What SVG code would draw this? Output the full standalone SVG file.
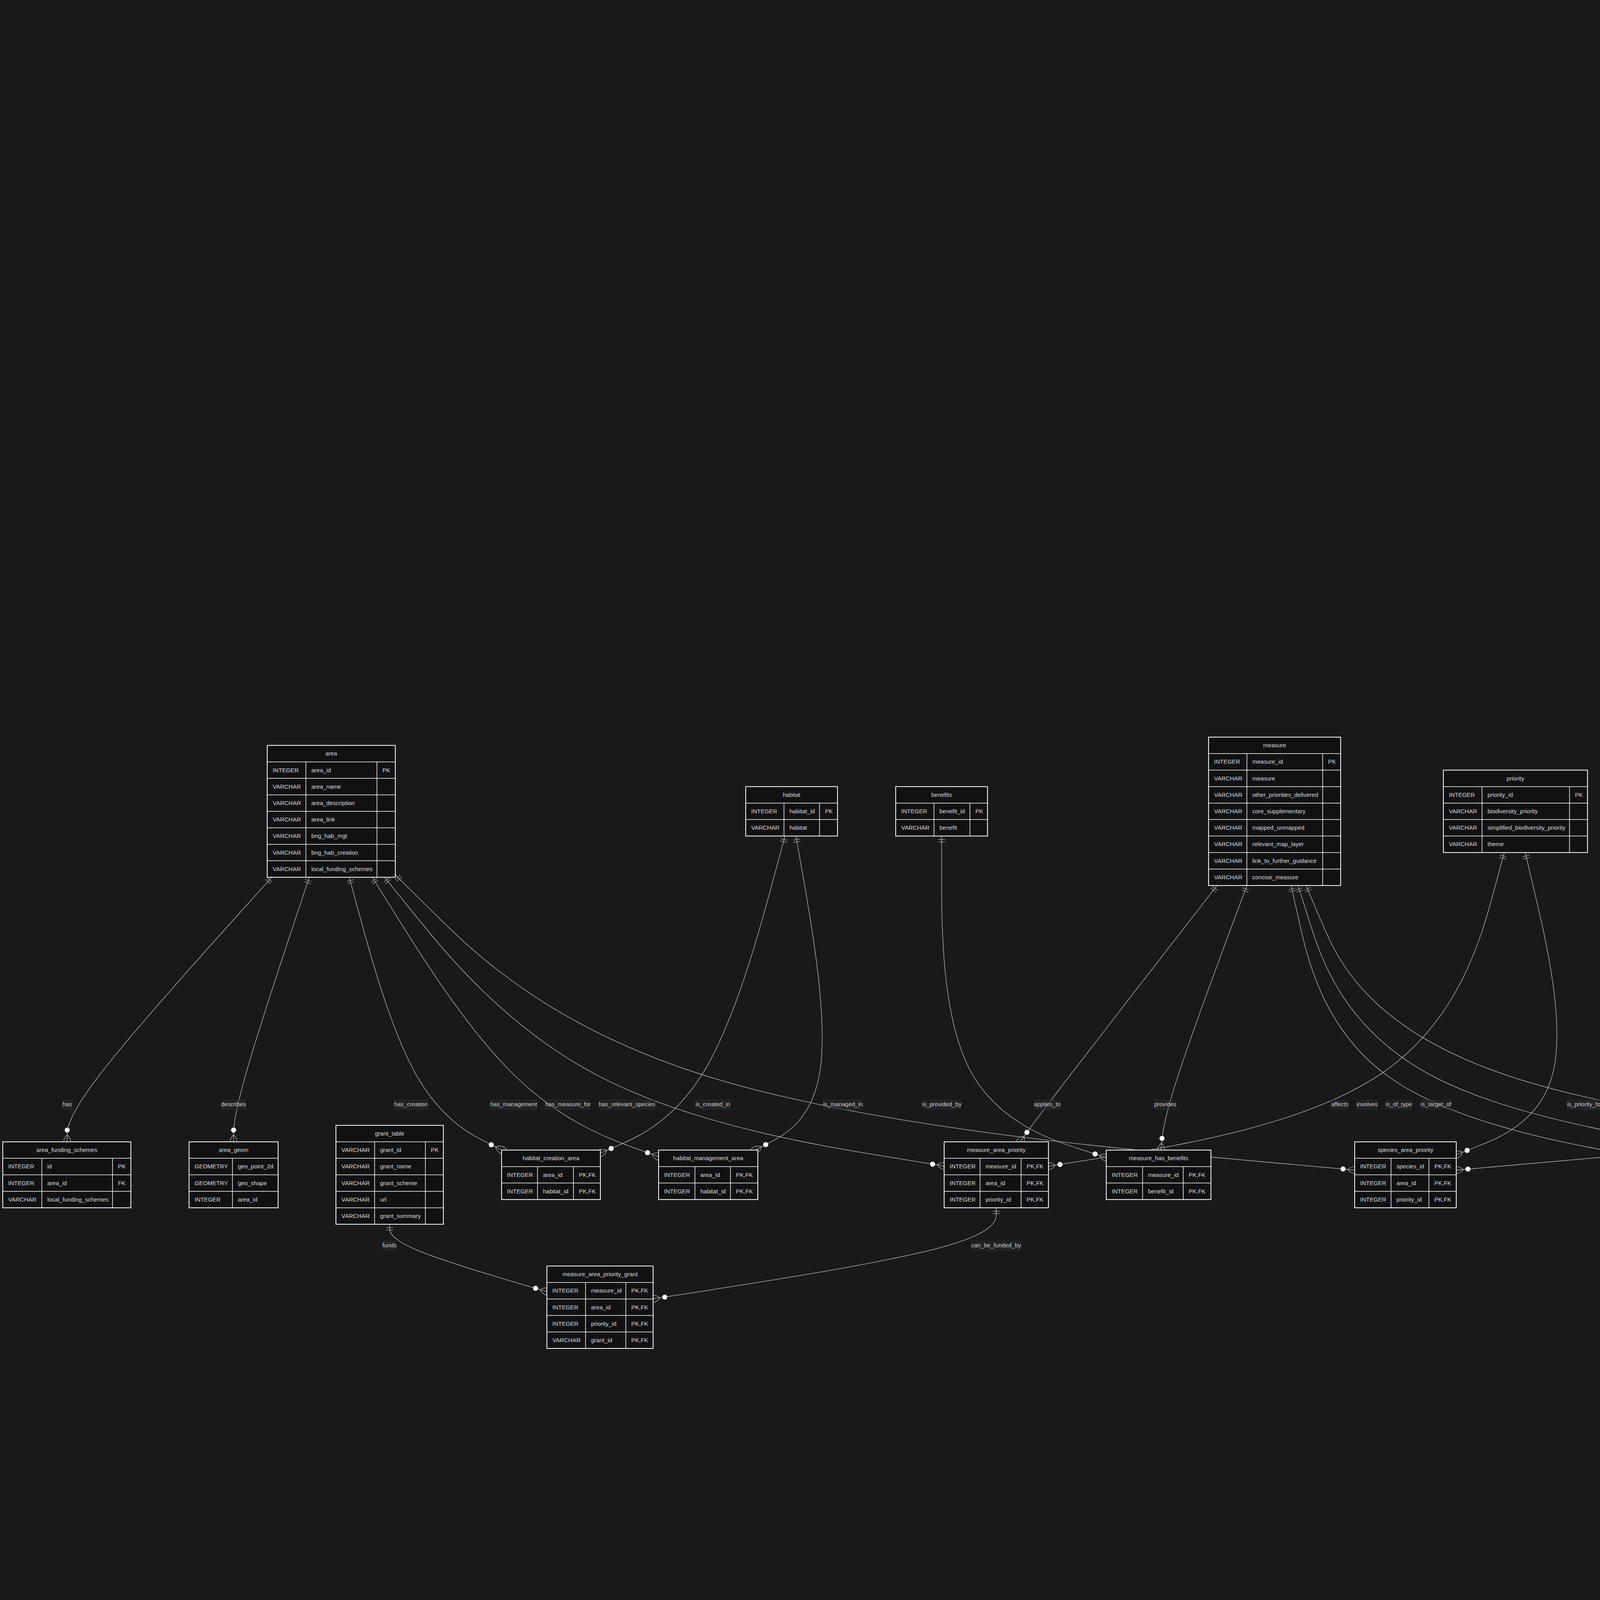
<svg xmlns="http://www.w3.org/2000/svg" width="6066" height="4833" viewBox="0 0 6066 4833">
<style>
.tb{fill:#111114;stroke:#ffffff;stroke-width:2}
.gr{fill:none;stroke:#ffffff;stroke-width:1.5}
.t{font-family:"Liberation Sans",Arial,sans-serif;font-size:15px;fill:#dddddd}
.h{font-family:"Liberation Sans",Arial,sans-serif;font-size:15px;fill:#dddddd;text-anchor:middle}
.e{fill:none;stroke:#c4c4c4;stroke-width:1.3}
.lb{fill:#2a2a2e;fill-opacity:0.55}
.lt{font-family:"Liberation Sans",Arial,sans-serif;font-size:15px;fill:#cccccc;text-anchor:middle}
</style>
<defs>
<marker id="oneStart" refX="0" refY="9" markerWidth="18" markerHeight="18" orient="auto" markerUnits="userSpaceOnUse"><path d="M9,0 L9,18 M15,0 L15,18" fill="none" stroke="#bbbbbb" stroke-width="1.2"/></marker>
<marker id="zmEnd" refX="39" refY="18" markerWidth="57" markerHeight="36" orient="auto" markerUnits="userSpaceOnUse"><circle cx="9" cy="18" r="6.5" fill="#ffffff"/><path d="M21,18 Q39,0 57,18 Q39,36 21,18" fill="none" stroke="#bbbbbb" stroke-width="1.2"/></marker>
</defs>
<rect x="0" y="0" width="6066" height="4833" fill="#19191c"/>
<g id="connectors" class="e" marker-start="url(#oneStart)" marker-end="url(#zmEnd)">
<path d="M696,2245.6 L608.7,2342.5 C521.3,2439.4 346.7,2633.2 259.3,2746.1 C172,2859 172,2891 172,2907 L172,2923"/>
<path d="M791.8,2245.6 L759.5,2342.5 C727.2,2439.4 662.6,2633.2 630.3,2746.1 C598,2859 598,2891 598,2907 L598,2923"/>
<path d="M893.9,2245.6 L920.3,2342.5 C946.6,2439.4 999.3,2633.2 1064.4,2749.6 C1129.5,2866 1207,2905 1245.8,2924.5 L1284.5,2944"/>
<path d="M953,2245.6 L1013.3,2342.5 C1073.7,2439.4 1194.3,2633.2 1316.5,2752.4 C1438.7,2871.7 1562.3,2916.3 1624.2,2938.7 L1686,2961"/>
<path d="M984.2,2245.6 L1062.5,2342.5 C1140.8,2439.4 1297.4,2633.2 1536.2,2756.5 C1775,2879.7 2096,2932.4 2256.5,2958.8 L2417,2985.1"/>
<path d="M1012,2239.5 L1110.8,2337.4 C1209.7,2435.3 1407.3,2631.2 1816.7,2757.1 C2226,2883.1 2847,2939.2 3157.5,2967.3 L3468,2995.3"/>
<path d="M2009.5,2140.3 L1978.8,2254.2 C1948,2368.7 1886.5,2597.9 1807.8,2733.3 C1729,2868.7 1633,2910.3 1585,2931.2 L1537,2952"/>
<path d="M2037.6,2140.3 L2057.7,2254.2 C2077.7,2368.7 2117.9,2597.9 2100.6,2731.9 C2083.3,2866 2008.5,2905 1971.2,2924.5 L1933.8,2944.2"/>
<path d="M2410.5,2140.3 L2410.6,2254.2 C2410.7,2368.7 2410.8,2597.9 2481.1,2735.2 C2551.3,2872.5 2691.7,2918 2761.8,2940.8 L2832,2963.5"/>
<path d="M3115.6,2266.9 L3043.2,2360.2 C2970.7,2453.5 2825.9,2640.3 2741.8,2749.6 C2657.8,2859 2634.6,2891 2623,2907 L2611.4,2923.1"/>
<path d="M3192.1,2266.9 L3157.2,2360.2 C3122.4,2453.5 3052.7,2640.3 3016,2753.1 C2979.3,2866 2975.7,2905 2973.8,2924.5 L2972,2944.2"/>
<path d="M3305.3,2266.9 L3326.1,2360.2 C3346.9,2453.5 3388.4,2640.3 3559.6,2759.8 C3730.7,2879.3 4031.3,2931.5 4181.7,2957.7 L4332,2983.8"/>
<path d="M3323,2266.9 L3352.5,2360.2 C3382,2453.5 3441,2640.3 3678.8,2760.6 C3916.7,2880.9 4333.3,2934.7 4541.7,2961.7 L4750,2988.6"/>
<path d="M3343.5,2266.9 L3383.1,2360.2 C3422.7,2453.5 3501.8,2640.3 3884.6,2761.6 C4267.3,2882.9 4953.7,2938.7 5296.8,2966.7 L5640,2994.6"/>
<path d="M3850.9,2182.5 L3821.8,2290.3 C3792.6,2397.7 3734.3,2612.3 3539.8,2746.1 C3345.3,2879.9 3014.7,2932.8 2849.3,2959.3 L2684,2985.7"/>
<path d="M3904.5,2182.5 L3929.9,2290.3 C3955.3,2397.7 4006.2,2612.3 3976.8,2741.2 C3947.3,2870 3837.7,2913 3782.8,2934.5 L3728,2956"/>
<path d="M4346,2140.3 L4346,2254.2 C4346,2368.7 4346,2597.9 4413.3,2734.6 C4480.7,2871.3 4615.3,2915.7 4682.7,2937.8 L4750,2960"/>
<path d="M5102,2370.5 L5061.8,2446.6 C5021.7,2522.7 4941.3,2674.8 4857.5,2770.8 C4773.7,2866.7 4686.3,2906.3 4642.7,2926.2 L4599,2946"/>
<path d="M5413,2381.3 L5450.8,2455.6 C5488.7,2529.9 5564.3,2678.4 5283.5,2780.8 C5002.7,2883.2 4365.3,2939.3 4046.7,2967.4 L3728,2995.5"/>
<path d="M5912.2,2140.3 L5912.5,2254.2 C5912.8,2368.7 5913.4,2597.9 5900.5,2731.9 C5887.6,2866 5861.1,2905 5847.9,2924.5 L5834.7,2944.2"/>
<path d="M997.5,3134.1 L997.4,3143 C997.3,3152.1 997.2,3170 1064.3,3198.8 C1131.3,3227.5 1265.7,3267 1332.8,3286.8 L1400,3306.5"/>
<path d="M2550.4,3091.9 L2550.3,3107.8 C2550.3,3123.9 2550.1,3155.9 2403.7,3194.8 C2257.3,3233.7 1964.7,3279.5 1818.3,3302.3 L1672,3325.2"/>
</g>
<g id="area">
<rect class="tb" x="684" y="1908.2" width="328" height="337.6"/>
<path class="gr" d="M684,1950.4H1012M684,1992.6H1012M684,2034.8H1012M684,2077H1012M684,2119.2H1012M684,2161.4H1012M684,2203.6H1012M783,1950.4V2245.8M965,1950.4V2245.8"/>
<text class="h" x="848" y="1934.3">area</text>
<text class="t" x="698" y="1976.5">INTEGER</text><text class="t" x="797" y="1976.5">area_id</text><text class="t" x="979" y="1976.5">PK</text>
<text class="t" x="698" y="2018.7">VARCHAR</text><text class="t" x="797" y="2018.7">area_name</text>
<text class="t" x="698" y="2060.9">VARCHAR</text><text class="t" x="797" y="2060.9">area_description</text>
<text class="t" x="698" y="2103.1">VARCHAR</text><text class="t" x="797" y="2103.1">area_link</text>
<text class="t" x="698" y="2145.3">VARCHAR</text><text class="t" x="797" y="2145.3">bng_hab_mgt</text>
<text class="t" x="698" y="2187.5">VARCHAR</text><text class="t" x="797" y="2187.5">bng_hab_creation</text>
<text class="t" x="698" y="2229.7">VARCHAR</text><text class="t" x="797" y="2229.7">local_funding_schemes</text>
</g>
<g id="habitat">
<rect class="tb" x="1909" y="2013.7" width="235" height="126.6"/>
<path class="gr" d="M1909,2055.9H2144M1909,2098.1H2144M2007,2055.9V2140.3M2098,2055.9V2140.3"/>
<text class="h" x="2026.5" y="2039.8">habitat</text>
<text class="t" x="1923" y="2082">INTEGER</text><text class="t" x="2021" y="2082">habitat_id</text><text class="t" x="2112" y="2082">PK</text>
<text class="t" x="1923" y="2124.2">VARCHAR</text><text class="t" x="2021" y="2124.2">habitat</text>
</g>
<g id="benefits">
<rect class="tb" x="2293" y="2013.7" width="235" height="126.6"/>
<path class="gr" d="M2293,2055.9H2528M2293,2098.1H2528M2391,2055.9V2140.3M2483,2055.9V2140.3"/>
<text class="h" x="2410.5" y="2039.8">benefits</text>
<text class="t" x="2307" y="2082">INTEGER</text><text class="t" x="2405" y="2082">benefit_id</text><text class="t" x="2497" y="2082">PK</text>
<text class="t" x="2307" y="2124.2">VARCHAR</text><text class="t" x="2405" y="2124.2">benefit</text>
</g>
<g id="measure">
<rect class="tb" x="3094" y="1887.1" width="338" height="379.8"/>
<path class="gr" d="M3094,1929.3H3432M3094,1971.5H3432M3094,2013.7H3432M3094,2055.9H3432M3094,2098.1H3432M3094,2140.3H3432M3094,2182.5H3432M3094,2224.7H3432M3192,1929.3V2266.9M3386,1929.3V2266.9"/>
<text class="h" x="3263" y="1913.2">measure</text>
<text class="t" x="3108" y="1955.4">INTEGER</text><text class="t" x="3206" y="1955.4">measure_id</text><text class="t" x="3400" y="1955.4">PK</text>
<text class="t" x="3108" y="1997.6">VARCHAR</text><text class="t" x="3206" y="1997.6">measure</text>
<text class="t" x="3108" y="2039.8">VARCHAR</text><text class="t" x="3206" y="2039.8">other_priorities_delivered</text>
<text class="t" x="3108" y="2082">VARCHAR</text><text class="t" x="3206" y="2082">core_supplementary</text>
<text class="t" x="3108" y="2124.2">VARCHAR</text><text class="t" x="3206" y="2124.2">mapped_unmapped</text>
<text class="t" x="3108" y="2166.4">VARCHAR</text><text class="t" x="3206" y="2166.4">relevant_map_layer</text>
<text class="t" x="3108" y="2208.6">VARCHAR</text><text class="t" x="3206" y="2208.6">link_to_further_guidance</text>
<text class="t" x="3108" y="2250.8">VARCHAR</text><text class="t" x="3206" y="2250.8">concise_measure</text>
</g>
<g id="priority">
<rect class="tb" x="3695" y="1971.5" width="369" height="211"/>
<path class="gr" d="M3695,2013.7H4064M3695,2055.9H4064M3695,2098.1H4064M3695,2140.3H4064M3794,2013.7V2182.5M4018,2013.7V2182.5"/>
<text class="h" x="3879.5" y="1997.6">priority</text>
<text class="t" x="3709" y="2039.8">INTEGER</text><text class="t" x="3808" y="2039.8">priority_id</text><text class="t" x="4032" y="2039.8">PK</text>
<text class="t" x="3709" y="2082">VARCHAR</text><text class="t" x="3808" y="2082">biodiversity_priority</text>
<text class="t" x="3709" y="2124.2">VARCHAR</text><text class="t" x="3808" y="2124.2">simplified_biodiversity_priority</text>
<text class="t" x="3709" y="2166.4">VARCHAR</text><text class="t" x="3808" y="2166.4">theme</text>
</g>
<g id="stakeholder">
<rect class="tb" x="4211" y="2013.7" width="270" height="126.6"/>
<path class="gr" d="M4211,2055.9H4481M4211,2098.1H4481M4310,2055.9V2140.3M4435,2055.9V2140.3"/>
<text class="h" x="4346" y="2039.8">stakeholder</text>
<text class="t" x="4225" y="2082">INTEGER</text><text class="t" x="4324" y="2082">stakeholder_id</text><text class="t" x="4449" y="2082">PK</text>
<text class="t" x="4225" y="2124.2">VARCHAR</text><text class="t" x="4324" y="2124.2">stakeholder</text>
</g>
<g id="source_table">
<rect class="tb" x="4631" y="1507.3" width="322" height="1139.4"/>
<path class="gr" d="M4631,1549.5H4953M4631,1591.7H4953M4631,1633.9H4953M4631,1676.1H4953M4631,1718.3H4953M4631,1760.5H4953M4631,1802.7H4953M4631,1844.9H4953M4631,1887.1H4953M4631,1929.3H4953M4631,1971.5H4953M4631,2013.7H4953M4631,2055.9H4953M4631,2098.1H4953M4631,2140.3H4953M4631,2182.5H4953M4631,2224.7H4953M4631,2266.9H4953M4631,2309.1H4953M4631,2351.3H4953M4631,2393.5H4953M4631,2435.7H4953M4631,2477.9H4953M4631,2520.1H4953M4631,2562.3H4953M4631,2604.5H4953M4728,1549.5V2646.7"/>
<text class="h" x="4792" y="1533.4">source_table</text>
<text class="t" x="4645" y="1575.6">BIGINT</text><text class="t" x="4742" y="1575.6">measure_id</text>
<text class="t" x="4645" y="1617.8">BIGINT</text><text class="t" x="4742" y="1617.8">priority_id</text>
<text class="t" x="4645" y="1660">VARCHAR</text><text class="t" x="4742" y="1660">measure</text>
<text class="t" x="4645" y="1702.2">VARCHAR</text><text class="t" x="4742" y="1702.2">other_priorities_delivered</text>
<text class="t" x="4645" y="1744.4">VARCHAR</text><text class="t" x="4742" y="1744.4">core_supplementary</text>
<text class="t" x="4645" y="1786.6">VARCHAR</text><text class="t" x="4742" y="1786.6">mapped_unmapped</text>
<text class="t" x="4645" y="1828.8">VARCHAR</text><text class="t" x="4742" y="1828.8">measure_type</text>
<text class="t" x="4645" y="1871">VARCHAR</text><text class="t" x="4742" y="1871">stakeholder</text>
<text class="t" x="4645" y="1913.2">VARCHAR</text><text class="t" x="4742" y="1913.2">relevant_map_layer</text>
<text class="t" x="4645" y="1955.4">VARCHAR</text><text class="t" x="4742" y="1955.4">link_to_further_guidance</text>
<text class="t" x="4645" y="1997.6">BIGINT</text><text class="t" x="4742" y="1997.6">area_id</text>
<text class="t" x="4645" y="2039.8">VARCHAR</text><text class="t" x="4742" y="2039.8">grant_id</text>
<text class="t" x="4645" y="2082">VARCHAR</text><text class="t" x="4742" y="2082">area_name</text>
<text class="t" x="4645" y="2124.2">VARCHAR</text><text class="t" x="4742" y="2124.2">area_description</text>
<text class="t" x="4645" y="2166.4">VARCHAR</text><text class="t" x="4742" y="2166.4">area_link</text>
<text class="t" x="4645" y="2208.6">VARCHAR</text><text class="t" x="4742" y="2208.6">bng_hab_mgt</text>
<text class="t" x="4645" y="2250.8">VARCHAR</text><text class="t" x="4742" y="2250.8">bng_hab_creation</text>
<text class="t" x="4645" y="2293">VARCHAR</text><text class="t" x="4742" y="2293">theme</text>
<text class="t" x="4645" y="2335.2">VARCHAR</text><text class="t" x="4742" y="2335.2">biodiversity_priority</text>
<text class="t" x="4645" y="2377.4">VARCHAR</text><text class="t" x="4742" y="2377.4">simplified_biodiversity_priority</text>
<text class="t" x="4645" y="2419.6">VARCHAR</text><text class="t" x="4742" y="2419.6">grant_name</text>
<text class="t" x="4645" y="2461.8">VARCHAR</text><text class="t" x="4742" y="2461.8">grant_scheme</text>
<text class="t" x="4645" y="2504">VARCHAR</text><text class="t" x="4742" y="2504">grant_summary</text>
<text class="t" x="4645" y="2546.2">VARCHAR</text><text class="t" x="4742" y="2546.2">url</text>
<text class="t" x="4645" y="2588.4">VARCHAR</text><text class="t" x="4742" y="2588.4">local_funding_schemes</text>
<text class="t" x="4645" y="2630.6">VARCHAR</text><text class="t" x="4742" y="2630.6">concise_measure</text>
</g>
<g id="species">
<rect class="tb" x="5102" y="1380.7" width="311" height="1392.6"/>
<path class="gr" d="M5102,1422.9H5413M5102,1465.1H5413M5102,1507.3H5413M5102,1549.5H5413M5102,1591.7H5413M5102,1633.9H5413M5102,1676.1H5413M5102,1718.3H5413M5102,1760.5H5413M5102,1802.7H5413M5102,1844.9H5413M5102,1887.1H5413M5102,1929.3H5413M5102,1971.5H5413M5102,2013.7H5413M5102,2055.9H5413M5102,2098.1H5413M5102,2140.3H5413M5102,2182.5H5413M5102,2224.7H5413M5102,2266.9H5413M5102,2309.1H5413M5102,2351.3H5413M5102,2393.5H5413M5102,2435.7H5413M5102,2477.9H5413M5102,2520.1H5413M5102,2562.3H5413M5102,2604.5H5413M5102,2646.7H5413M5102,2688.9H5413M5102,2731.1H5413M5199,1422.9V2773.3M5367,1422.9V2773.3"/>
<text class="h" x="5257.5" y="1406.8">species</text>
<text class="t" x="5116" y="1449">INTEGER</text><text class="t" x="5213" y="1449">species_id</text><text class="t" x="5381" y="1449">PK</text>
<text class="t" x="5116" y="1491.2">VARCHAR</text><text class="t" x="5213" y="1491.2">taxa</text>
<text class="t" x="5116" y="1533.4">VARCHAR</text><text class="t" x="5213" y="1533.4">common_name</text>
<text class="t" x="5116" y="1575.6">VARCHAR</text><text class="t" x="5213" y="1575.6">assemblage</text>
<text class="t" x="5116" y="1617.8">VARCHAR</text><text class="t" x="5213" y="1617.8">species_link</text>
<text class="t" x="5116" y="1660">VARCHAR</text><text class="t" x="5213" y="1660">linnaean_name</text>
<text class="t" x="5116" y="1702.2">VARCHAR</text><text class="t" x="5213" y="1702.2">usage_key</text>
<text class="t" x="5116" y="1744.4">VARCHAR</text><text class="t" x="5213" y="1744.4">scientific_name</text>
<text class="t" x="5116" y="1786.6">VARCHAR</text><text class="t" x="5213" y="1786.6">status</text>
<text class="t" x="5116" y="1828.8">VARCHAR</text><text class="t" x="5213" y="1828.8">kingdom</text>
<text class="t" x="5116" y="1871">VARCHAR</text><text class="t" x="5213" y="1871">phylum</text>
<text class="t" x="5116" y="1913.2">VARCHAR</text><text class="t" x="5213" y="1913.2">order</text>
<text class="t" x="5116" y="1955.4">VARCHAR</text><text class="t" x="5213" y="1955.4">family</text>
<text class="t" x="5116" y="1997.6">VARCHAR</text><text class="t" x="5213" y="1997.6">genus</text>
<text class="t" x="5116" y="2039.8">VARCHAR</text><text class="t" x="5213" y="2039.8">species</text>
<text class="t" x="5116" y="2082">VARCHAR</text><text class="t" x="5213" y="2082">kingdom_key</text>
<text class="t" x="5116" y="2124.2">VARCHAR</text><text class="t" x="5213" y="2124.2">phylum_key</text>
<text class="t" x="5116" y="2166.4">VARCHAR</text><text class="t" x="5213" y="2166.4">class_key</text>
<text class="t" x="5116" y="2208.6">VARCHAR</text><text class="t" x="5213" y="2208.6">order_key</text>
<text class="t" x="5116" y="2250.8">VARCHAR</text><text class="t" x="5213" y="2250.8">family_key</text>
<text class="t" x="5116" y="2293">VARCHAR</text><text class="t" x="5213" y="2293">genus_key</text>
<text class="t" x="5116" y="2335.2">VARCHAR</text><text class="t" x="5213" y="2335.2">species_key</text>
<text class="t" x="5116" y="2377.4">VARCHAR</text><text class="t" x="5213" y="2377.4">synonym</text>
<text class="t" x="5116" y="2419.6">VARCHAR</text><text class="t" x="5213" y="2419.6">class</text>
<text class="t" x="5116" y="2461.8">VARCHAR</text><text class="t" x="5213" y="2461.8">accepted_usage_key</text>
<text class="t" x="5116" y="2504">VARCHAR</text><text class="t" x="5213" y="2504">verbatim_name</text>
<text class="t" x="5116" y="2546.2">BIGINT</text><text class="t" x="5213" y="2546.2">verbatim_index</text>
<text class="t" x="5116" y="2588.4">VARCHAR</text><text class="t" x="5213" y="2588.4">gbif_species_url</text>
<text class="t" x="5116" y="2630.6">VARCHAR</text><text class="t" x="5213" y="2630.6">image_url</text>
<text class="t" x="5116" y="2672.8">VARCHAR</text><text class="t" x="5213" y="2672.8">license</text>
<text class="t" x="5116" y="2715">VARCHAR</text><text class="t" x="5213" y="2715">attribution</text>
<text class="t" x="5116" y="2757.2">VARCHAR</text><text class="t" x="5213" y="2757.2">photo_url</text>
</g>
<g id="measure_type">
<rect class="tb" x="5768" y="2013.7" width="288" height="126.6"/>
<path class="gr" d="M5768,2055.9H6056M5768,2098.1H6056M5867,2055.9V2140.3M6009,2055.9V2140.3"/>
<text class="h" x="5912" y="2039.8">measure_type</text>
<text class="t" x="5782" y="2082">INTEGER</text><text class="t" x="5881" y="2082">measure_type_id</text><text class="t" x="6023" y="2082">PK</text>
<text class="t" x="5782" y="2124.2">VARCHAR</text><text class="t" x="5881" y="2124.2">measure_type</text>
</g>
<g id="area_funding_schemes">
<rect class="tb" x="7" y="2923.1" width="328" height="168.8"/>
<path class="gr" d="M7,2965.3H335M7,3007.5H335M7,3049.7H335M107,2965.3V3091.9M288,2965.3V3091.9"/>
<text class="h" x="171" y="2949.2">area_funding_schemes</text>
<text class="t" x="21" y="2991.4">INTEGER</text><text class="t" x="121" y="2991.4">id</text><text class="t" x="302" y="2991.4">PK</text>
<text class="t" x="21" y="3033.6">INTEGER</text><text class="t" x="121" y="3033.6">area_id</text><text class="t" x="302" y="3033.6">FK</text>
<text class="t" x="21" y="3075.8">VARCHAR</text><text class="t" x="121" y="3075.8">local_funding_schemes</text>
</g>
<g id="area_geom">
<rect class="tb" x="484" y="2923.1" width="228" height="168.8"/>
<path class="gr" d="M484,2965.3H712M484,3007.5H712M484,3049.7H712M595,2965.3V3091.9"/>
<text class="h" x="598" y="2949.2">area_geom</text>
<text class="t" x="498" y="2991.4">GEOMETRY</text><text class="t" x="609" y="2991.4">geo_point_2d</text>
<text class="t" x="498" y="3033.6">GEOMETRY</text><text class="t" x="609" y="3033.6">geo_shape</text>
<text class="t" x="498" y="3075.8">INTEGER</text><text class="t" x="609" y="3075.8">area_id</text>
</g>
<g id="grant_table">
<rect class="tb" x="860" y="2880.9" width="275" height="253.2"/>
<path class="gr" d="M860,2923.1H1135M860,2965.3H1135M860,3007.5H1135M860,3049.7H1135M860,3091.9H1135M959,2923.1V3134.1M1089,2923.1V3134.1"/>
<text class="h" x="997.5" y="2907">grant_table</text>
<text class="t" x="874" y="2949.2">VARCHAR</text><text class="t" x="973" y="2949.2">grant_id</text><text class="t" x="1103" y="2949.2">PK</text>
<text class="t" x="874" y="2991.4">VARCHAR</text><text class="t" x="973" y="2991.4">grant_name</text>
<text class="t" x="874" y="3033.6">VARCHAR</text><text class="t" x="973" y="3033.6">grant_scheme</text>
<text class="t" x="874" y="3075.8">VARCHAR</text><text class="t" x="973" y="3075.8">url</text>
<text class="t" x="874" y="3118">VARCHAR</text><text class="t" x="973" y="3118">grant_summary</text>
</g>
<g id="habitat_creation_area">
<rect class="tb" x="1284" y="2944.2" width="253" height="126.6"/>
<path class="gr" d="M1284,2986.4H1537M1284,3028.6H1537M1376,2986.4V3070.8M1468,2986.4V3070.8"/>
<text class="h" x="1410.5" y="2970.3">habitat_creation_area</text>
<text class="t" x="1298" y="3012.5">INTEGER</text><text class="t" x="1390" y="3012.5">area_id</text><text class="t" x="1482" y="3012.5">PK,FK</text>
<text class="t" x="1298" y="3054.7">INTEGER</text><text class="t" x="1390" y="3054.7">habitat_id</text><text class="t" x="1482" y="3054.7">PK,FK</text>
</g>
<g id="habitat_management_area">
<rect class="tb" x="1686" y="2944.2" width="254" height="126.6"/>
<path class="gr" d="M1686,2986.4H1940M1686,3028.6H1940M1779,2986.4V3070.8M1870,2986.4V3070.8"/>
<text class="h" x="1813" y="2970.3">habitat_management_area</text>
<text class="t" x="1700" y="3012.5">INTEGER</text><text class="t" x="1793" y="3012.5">area_id</text><text class="t" x="1884" y="3012.5">PK,FK</text>
<text class="t" x="1700" y="3054.7">INTEGER</text><text class="t" x="1793" y="3054.7">habitat_id</text><text class="t" x="1884" y="3054.7">PK,FK</text>
</g>
<g id="measure_area_priority">
<rect class="tb" x="2417" y="2923.1" width="267" height="168.8"/>
<path class="gr" d="M2417,2965.3H2684M2417,3007.5H2684M2417,3049.7H2684M2509,2965.3V3091.9M2614,2965.3V3091.9"/>
<text class="h" x="2550.5" y="2949.2">measure_area_priority</text>
<text class="t" x="2431" y="2991.4">INTEGER</text><text class="t" x="2523" y="2991.4">measure_id</text><text class="t" x="2628" y="2991.4">PK,FK</text>
<text class="t" x="2431" y="3033.6">INTEGER</text><text class="t" x="2523" y="3033.6">area_id</text><text class="t" x="2628" y="3033.6">PK,FK</text>
<text class="t" x="2431" y="3075.8">INTEGER</text><text class="t" x="2523" y="3075.8">priority_id</text><text class="t" x="2628" y="3075.8">PK,FK</text>
</g>
<g id="measure_has_benefits">
<rect class="tb" x="2832" y="2944.2" width="268" height="126.6"/>
<path class="gr" d="M2832,2986.4H3100M2832,3028.6H3100M2925,2986.4V3070.8M3029,2986.4V3070.8"/>
<text class="h" x="2966" y="2970.3">measure_has_benefits</text>
<text class="t" x="2846" y="3012.5">INTEGER</text><text class="t" x="2939" y="3012.5">measure_id</text><text class="t" x="3043" y="3012.5">PK,FK</text>
<text class="t" x="2846" y="3054.7">INTEGER</text><text class="t" x="2939" y="3054.7">benefit_id</text><text class="t" x="3043" y="3054.7">PK,FK</text>
</g>
<g id="species_area_priority">
<rect class="tb" x="3468" y="2923.1" width="260" height="168.8"/>
<path class="gr" d="M3468,2965.3H3728M3468,3007.5H3728M3468,3049.7H3728M3561,2965.3V3091.9M3658,2965.3V3091.9"/>
<text class="h" x="3598" y="2949.2">species_area_priority</text>
<text class="t" x="3482" y="2991.4">INTEGER</text><text class="t" x="3575" y="2991.4">species_id</text><text class="t" x="3672" y="2991.4">PK,FK</text>
<text class="t" x="3482" y="3033.6">INTEGER</text><text class="t" x="3575" y="3033.6">area_id</text><text class="t" x="3672" y="3033.6">PK,FK</text>
<text class="t" x="3482" y="3075.8">INTEGER</text><text class="t" x="3575" y="3075.8">priority_id</text><text class="t" x="3672" y="3075.8">PK,FK</text>
</g>
<g id="measure_has_species">
<rect class="tb" x="4332" y="2944.2" width="267" height="126.6"/>
<path class="gr" d="M4332,2986.4H4599M4332,3028.6H4599M4424,2986.4V3070.8M4529,2986.4V3070.8"/>
<text class="h" x="4465.5" y="2970.3">measure_has_species</text>
<text class="t" x="4346" y="3012.5">INTEGER</text><text class="t" x="4438" y="3012.5">measure_id</text><text class="t" x="4543" y="3012.5">PK,FK</text>
<text class="t" x="4346" y="3054.7">INTEGER</text><text class="t" x="4438" y="3054.7">species_id</text><text class="t" x="4543" y="3054.7">PK,FK</text>
</g>
<g id="measure_has_stakeholder">
<rect class="tb" x="4750" y="2944.2" width="285" height="126.6"/>
<path class="gr" d="M4750,2986.4H5035M4750,3028.6H5035M4843,2986.4V3070.8M4965,2986.4V3070.8"/>
<text class="h" x="4892.5" y="2970.3">measure_has_stakeholder</text>
<text class="t" x="4764" y="3012.5">INTEGER</text><text class="t" x="4857" y="3012.5">measure_id</text><text class="t" x="4979" y="3012.5">PK,FK</text>
<text class="t" x="4764" y="3054.7">INTEGER</text><text class="t" x="4857" y="3054.7">stakeholder_id</text><text class="t" x="4979" y="3054.7">PK,FK</text>
</g>
<g id="measure_has_type">
<rect class="tb" x="5640" y="2944.2" width="304" height="126.6"/>
<path class="gr" d="M5640,2986.4H5944M5640,3028.6H5944M5733,2986.4V3070.8M5874,2986.4V3070.8"/>
<text class="h" x="5792" y="2970.3">measure_has_type</text>
<text class="t" x="5654" y="3012.5">INTEGER</text><text class="t" x="5747" y="3012.5">measure_id</text><text class="t" x="5888" y="3012.5">PK,FK</text>
<text class="t" x="5654" y="3054.7">INTEGER</text><text class="t" x="5747" y="3054.7">measure_type_id</text><text class="t" x="5888" y="3054.7">PK,FK</text>
</g>
<g id="measure_area_priority_grant">
<rect class="tb" x="1400" y="3241" width="272" height="211"/>
<path class="gr" d="M1400,3283.2H1672M1400,3325.4H1672M1400,3367.6H1672M1400,3409.8H1672M1499,3283.2V3452M1602,3283.2V3452"/>
<text class="h" x="1536" y="3267.1">measure_area_priority_grant</text>
<text class="t" x="1414" y="3309.3">INTEGER</text><text class="t" x="1513" y="3309.3">measure_id</text><text class="t" x="1616" y="3309.3">PK,FK</text>
<text class="t" x="1414" y="3351.5">INTEGER</text><text class="t" x="1513" y="3351.5">area_id</text><text class="t" x="1616" y="3351.5">PK,FK</text>
<text class="t" x="1414" y="3393.7">INTEGER</text><text class="t" x="1513" y="3393.7">priority_id</text><text class="t" x="1616" y="3393.7">PK,FK</text>
<text class="t" x="1414" y="3435.9">VARCHAR</text><text class="t" x="1513" y="3435.9">grant_id</text><text class="t" x="1616" y="3435.9">PK,FK</text>
</g>
<g id="edge-labels">
<rect class="lb" x="158" y="2814.5" width="28" height="27"/><text class="lt" x="172" y="2832">has</text>
<rect class="lb" x="566" y="2814.5" width="64" height="27"/><text class="lt" x="598" y="2832">describes</text>
<rect class="lb" x="1009" y="2814.5" width="86" height="27"/><text class="lt" x="1052" y="2832">has_creation</text>
<rect class="lb" x="1255" y="2814.5" width="120" height="27"/><text class="lt" x="1315" y="2832">has_management</text>
<rect class="lb" x="1396" y="2814.5" width="116" height="27"/><text class="lt" x="1454" y="2832">has_measure_for</text>
<rect class="lb" x="1533" y="2814.5" width="144" height="27"/><text class="lt" x="1605" y="2832">has_relevant_species</text>
<rect class="lb" x="1781" y="2814.5" width="88" height="27"/><text class="lt" x="1825" y="2832">is_created_in</text>
<rect class="lb" x="2107" y="2814.5" width="102" height="27"/><text class="lt" x="2158" y="2832">is_managed_in</text>
<rect class="lb" x="2361" y="2814.5" width="100" height="27"/><text class="lt" x="2411" y="2832">is_provided_by</text>
<rect class="lb" x="2647" y="2814.5" width="68" height="27"/><text class="lt" x="2681" y="2832">applies_to</text>
<rect class="lb" x="2955" y="2814.5" width="56" height="27"/><text class="lt" x="2983" y="2832">provides</text>
<rect class="lb" x="3408" y="2814.5" width="44" height="27"/><text class="lt" x="3430" y="2832">affects</text>
<rect class="lb" x="3473" y="2814.5" width="54" height="27"/><text class="lt" x="3500" y="2832">involves</text>
<rect class="lb" x="3547" y="2814.5" width="68" height="27"/><text class="lt" x="3581" y="2832">is_of_type</text>
<rect class="lb" x="3637" y="2814.5" width="78" height="27"/><text class="lt" x="3676" y="2832">is_target_of</text>
<rect class="lb" x="4012" y="2814.5" width="90" height="27"/><text class="lt" x="4057" y="2832">is_priority_for</text>
<rect class="lb" x="4299" y="2814.5" width="94" height="27"/><text class="lt" x="4346" y="2832">is_involved_in</text>
<rect class="lb" x="4813" y="2814.5" width="96" height="27"/><text class="lt" x="4861" y="2832">is_affected_by</text>
<rect class="lb" x="5594" y="2814.5" width="92" height="27"/><text class="lt" x="5640" y="2832">is_relevant_to</text>
<rect class="lb" x="5880" y="2814.5" width="68" height="27"/><text class="lt" x="5914" y="2832">is_type_of</text>
<rect class="lb" x="979" y="3175.5" width="36" height="27"/><text class="lt" x="997" y="3193">funds</text>
<rect class="lb" x="2486" y="3175.5" width="128" height="27"/><text class="lt" x="2550" y="3193">can_be_funded_by</text>
</g>
</svg>
